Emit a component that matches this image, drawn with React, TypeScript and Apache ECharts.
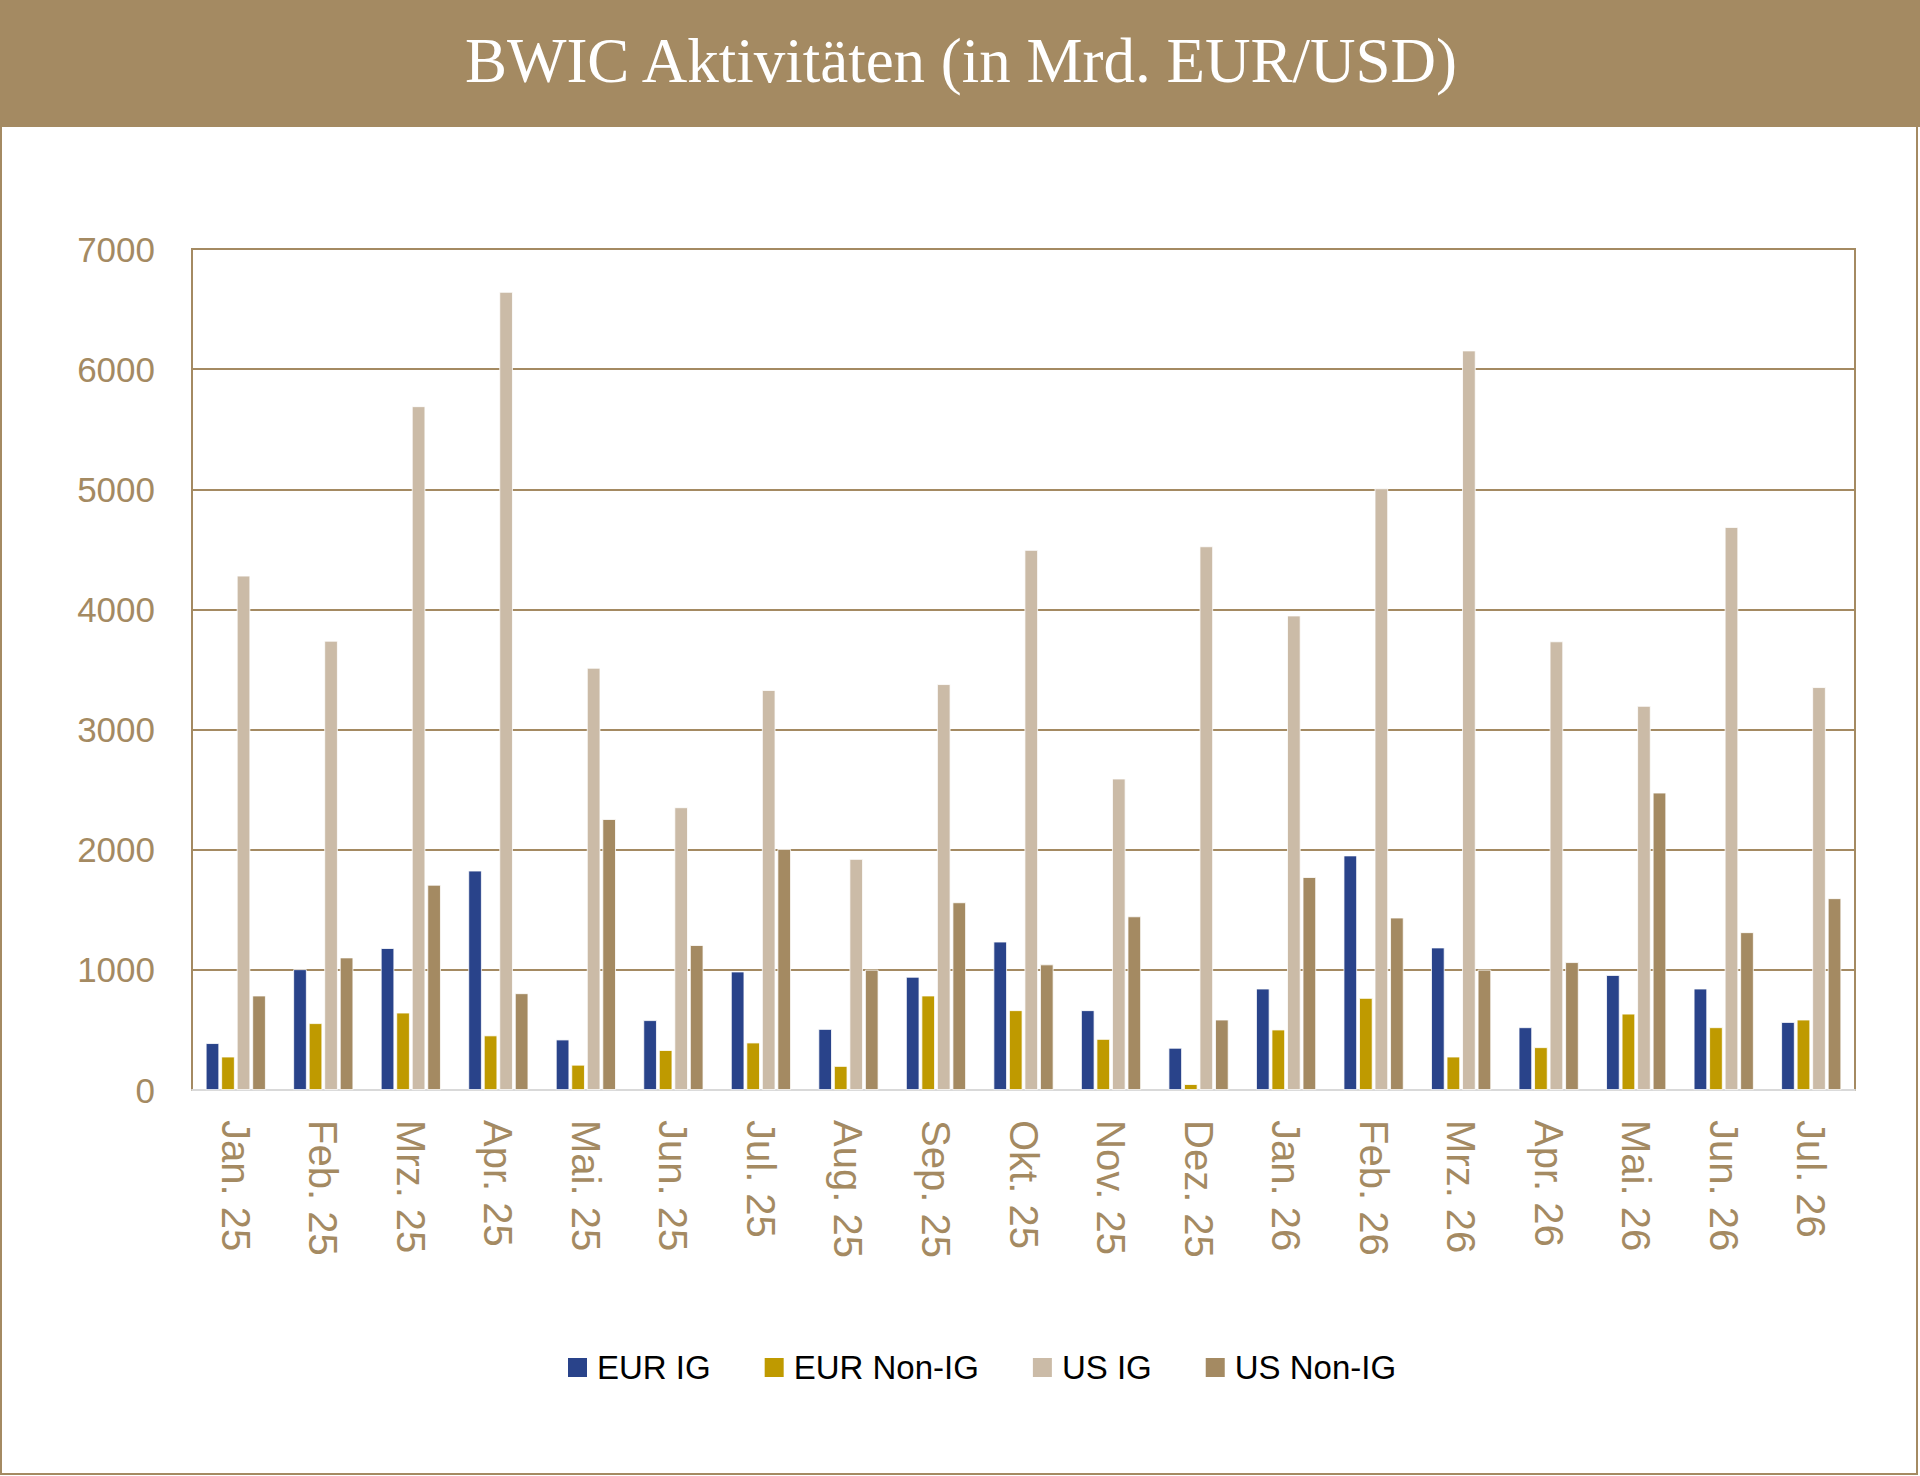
import React, { useEffect, useRef } from "react";
import * as echarts from "echarts";

const categories = [
  "Jan. 25", "Feb. 25", "Mrz. 25", "Apr. 25", "Mai. 25", "Jun. 25", "Jul. 25",
  "Aug. 25", "Sep. 25", "Okt. 25", "Nov. 25", "Dez. 25", "Jan. 26", "Feb. 26",
  "Mrz. 26", "Apr. 26", "Mai. 26", "Jun. 26", "Jul. 26",
];
const eurIG = [390, 1005, 1181, 1826, 420, 581, 986, 508, 942, 1235, 664, 351, 844, 1952, 1186, 522, 957, 844, 566];
const eurNonIG = [278, 556, 644, 454, 210, 332, 395, 200, 786, 664, 425, 49, 503, 766, 278, 356, 635, 522, 586];
const usIG = [4281, 3739, 5691, 6643, 3514, 2353, 3329, 1923, 3378, 4495, 2592, 4525, 3949, 5008, 6155, 3734, 3197, 4686, 3353];
const usNonIG = [786, 1103, 1708, 805, 2255, 1206, 2006, 1001, 1562, 1045, 1445, 586, 1772, 1435, 1001, 1064, 2475, 1313, 1596];
const seriesNames = ["EUR IG", "EUR Non-IG", "US IG", "US Non-IG"];
const seriesColors = ["#29438A", "#BF9A00", "#CBBBA7", "#A48A62"];
const titleText = "BWIC Aktivitäten (in Mrd. EUR/USD)";

const BROWN = "#A48A62";

export default function App() {
  const ref = useRef<HTMLDivElement>(null);
  useEffect(() => {
    if (!ref.current) return;
    const chart = echarts.init(ref.current, null, { renderer: "svg" });
    const seriesData = [eurIG, eurNonIG, usIG, usNonIG];
    chart.setOption({
      animation: false,
      backgroundColor: "#ffffff",
      graphic: [
        {
          type: "rect",
          shape: { x: 0, y: 0, width: 1920, height: 127 },
          style: { fill: BROWN },
          z: 0,
        },
        {
          type: "rect",
          shape: { x: 1, y: 1, width: 1916, height: 1473 },
          style: { fill: "none", stroke: BROWN, lineWidth: 2 },
          z: 1,
        },
        {
          type: "text",
          x: 961,
          y: 61,
          style: {
            text: titleText,
            fill: "#ffffff",
            font: "63px 'Liberation Serif'",
            textAlign: "center",
            textVerticalAlign: "middle",
            align: "center",
            verticalAlign: "middle",
          },
          z: 2,
        },
      ],
      grid: {
        left: 192,
        right: 65,
        top: 249,
        bottom: 386,
        show: true,
        borderColor: BROWN,
        borderWidth: 2,
        containLabel: false,
      },
      legend: {
        data: seriesNames,
        left: 566,
        top: 1351,
        padding: 0,
        itemWidth: 21,
        itemHeight: 21,
        itemGap: 52,
        icon: "rect",
        textStyle: {
          fontFamily: "'Liberation Sans'",
          fontSize: 33,
          color: "#000000",
          padding: [0, 0, 0, 4],
        },
      },
      xAxis: {
        type: "category",
        data: categories,
        axisLine: { show: true, lineStyle: { color: "#D9D9D9", width: 2 } },
        axisTick: { show: false },
        axisLabel: {
          rotate: -90,
          margin: 30,
          color: BROWN,
          fontFamily: "'Liberation Sans'",
          fontSize: 40,
          interval: 0,
        },
      },
      yAxis: {
        type: "value",
        min: 0,
        max: 7000,
        interval: 1000,
        axisLine: { show: true, lineStyle: { color: BROWN, width: 2 } },
        axisTick: { show: false },
        splitLine: { show: true, lineStyle: { color: BROWN, width: 2 } },
        axisLabel: {
          margin: 37,
          color: BROWN,
          fontFamily: "'Liberation Sans'",
          fontSize: 35,
          formatter: (v: number) => String(v),
        },
      },
      series: seriesNames.map((name, i) => ({
        name,
        type: "bar",
        data: seriesData[i],
        barWidth: 13.5,
        barGap: "15%",
        itemStyle: {
          color: seriesColors[i],
          borderColor: "#ffffff",
          borderWidth: 0.8,
        },
      })),
    });
    return () => chart.dispose();
  }, []);
  return (
    <div
      ref={ref}
      style={{ position: "absolute", left: 0, top: 0, width: 1920, height: 1476 }}
    />
  );
}
